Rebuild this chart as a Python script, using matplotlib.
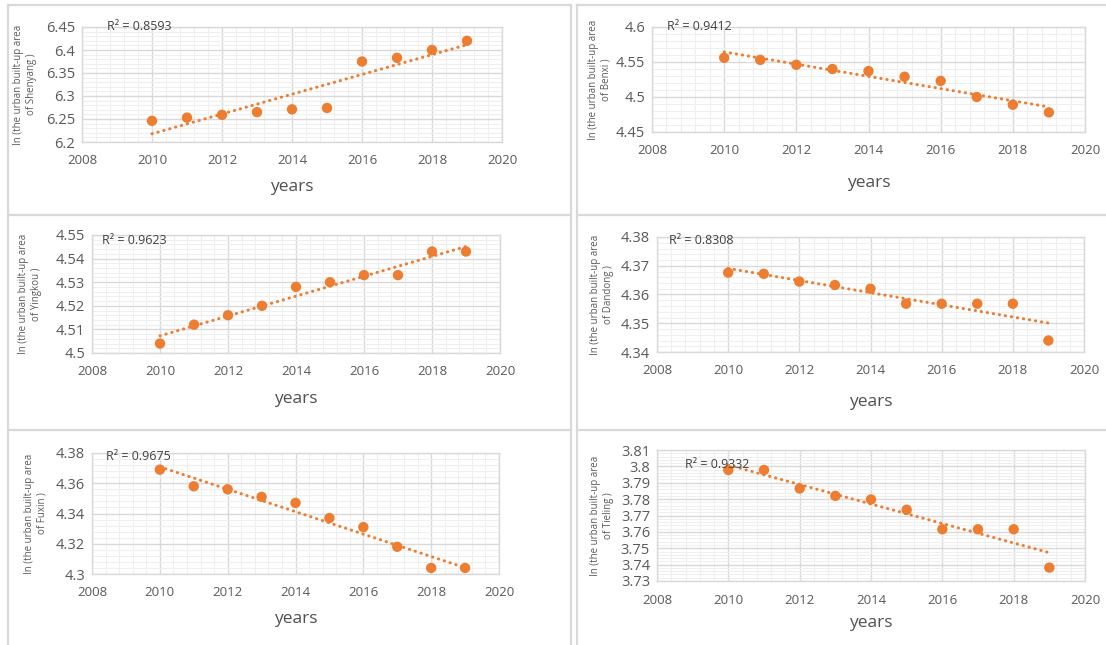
import numpy as np
import matplotlib
matplotlib.use('Agg')
import matplotlib.pyplot as plt
from matplotlib.lines import Line2D
from matplotlib.ticker import MultipleLocator, AutoMinorLocator

plt.rcParams['font.family'] = ['Open Sans', 'DejaVu Sans']

years = [2010, 2011, 2012, 2013, 2014, 2015, 2016, 2017, 2018, 2019]

shenyang = [6.246, 6.253, 6.259, 6.265, 6.271, 6.274, 6.375, 6.383, 6.400, 6.420]
benxi = [4.556, 4.553, 4.546, 4.540, 4.537, 4.529, 4.523, 4.500, 4.489, 4.478]
yingkou = [4.504, 4.512, 4.516, 4.520, 4.528, 4.530, 4.533, 4.533, 4.543, 4.543]
dandong = [4.3676, 4.3672, 4.3645, 4.3633, 4.3620, 4.3568, 4.3568, 4.3568, 4.3568, 4.3440]
fuxin = [4.369, 4.358, 4.356, 4.351, 4.347, 4.337, 4.331, 4.318, 4.304, 4.304]
tieling = [3.7978, 3.7978, 3.7865, 3.7820, 3.7798, 3.7735, 3.7616, 3.7616, 3.7616, 3.7382]

cities = ['Shenyang', 'Benxi', 'Yingkou', 'Dandong', 'Fuxin', 'Tieling']
series = [shenyang, benxi, yingkou, dandong, fuxin, tieling]
r2_labels = ['0.8593', '0.9412', '0.9623', '0.8308', '0.9675', '0.9332']
y_limits = [(6.2, 6.45), (4.45, 4.6), (4.5, 4.55), (4.34, 4.38), (4.3, 4.38), (3.73, 3.81)]
y_steps = [0.05, 0.05, 0.01, 0.01, 0.02, 0.01]

W, H = 1106, 645
# plot areas in pixels: left, right, top, bottom
boxes = [(82, 502, 27, 142), (652, 1085, 27, 132),
         (92, 500, 235, 353), (657, 1084, 237, 352),
         (92, 499, 453, 574), (657, 1085, 450, 581)]
# R^2 text anchor (left x, centre y) in pixels
r2_pos = [(107, 26), (667, 27), (102, 240), (669, 240), (106, 456), (685, 465)]
# x-axis title centre y in pixels
xlab_y = [187, 183, 399, 402, 619, 623]
# y-axis title centre x in pixels
ylab_x = [25, 600, 30, 602, 36, 602]

orange = '#ED7D31'
grey_txt = '#595959'

fig = plt.figure(figsize=(W / 100, H / 100), dpi=100)

# panel frames
frame = '#d9d9d9'
def fline(x0, y0, x1, y1):
    fig.add_artist(Line2D([x0 / W, x1 / W], [1 - y0 / H, 1 - y1 / H],
                          color=frame, lw=1.6, transform=fig.transFigure))
for xl, xr in [(8, 571), (577, 1110)]:
    fline(xl, 5, xr, 5)
    fline(xl, 5, xl, 650)
    fline(xr, 5, xr, 650)
    fline(xl, 215, xr, 215)
    fline(xl, 430, xr, 430)

for i in range(6):
    l, r, t, b = boxes[i]
    ax = fig.add_axes([l / W, 1 - b / H, (r - l) / W, (b - t) / H])
    y = np.array(series[i])
    x = np.array(years)

    ax.scatter(x, y, s=56, color=orange, zorder=3, edgecolors='none')
    k, c = np.polyfit(x, y, 1)
    ax.plot(x, k * x + c, color=orange, lw=2.2, linestyle=(0, (0.1, 1.9)),
            dash_capstyle='round', zorder=2)

    ax.set_xlim(2008, 2020)
    ax.set_ylim(*y_limits[i])
    ax.xaxis.set_major_locator(MultipleLocator(2))
    ax.yaxis.set_major_locator(MultipleLocator(y_steps[i]))
    ax.xaxis.set_minor_locator(AutoMinorLocator(5))
    ax.yaxis.set_minor_locator(AutoMinorLocator(5))
    ax.yaxis.set_major_formatter(plt.FuncFormatter(lambda v, p: f'{v:.3f}'.rstrip('0').rstrip('.')))

    ax.grid(which='major', color='#d9d9d9', lw=1.0)
    ax.grid(which='minor', color='#efefef', lw=0.8)
    ax.set_axisbelow(True)
    for s in ax.spines.values():
        s.set_color('#d9d9d9')
        s.set_linewidth(1.0)
    ax.tick_params(which='both', length=0)
    ax.tick_params(axis='x', labelsize=9.5, labelcolor=grey_txt, pad=9)
    ax.tick_params(axis='y', labelsize=10.5, labelcolor=grey_txt, pad=5)

    ax.set_ylabel(f'In (the urban built-up area\nof {cities[i]} )', fontsize=7,
                  color=grey_txt, linespacing=1.15, va='center')
    ax.yaxis.set_label_coords((ylab_x[i] - l) / (r - l), 0.5)

    fig.text((l + r) / 2 / W, 1 - xlab_y[i] / H, 'years', fontsize=12.5,
             color='#505050', ha='center', va='center')

    rx, ry = r2_pos[i]
    fig.text(rx / W, 1 - ry / H, 'R² = ' + r2_labels[i], fontsize=9,
             color='#404040', ha='left', va='center')

fig.savefig('out.png', dpi=100)
